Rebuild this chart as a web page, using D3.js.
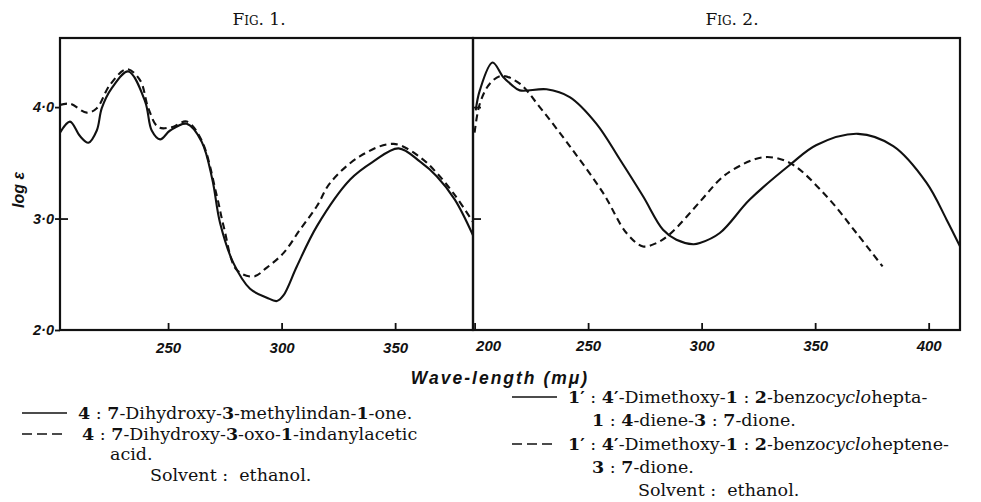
<!DOCTYPE html>
<html>
<head>
<meta charset="utf-8">
<script src="https://cdn.jsdelivr.net/npm/d3@7"></script>
<style>
  html, body { margin: 0; padding: 0; background: #fff; }
  svg { display: block; }
  .legend { white-space: pre; }
</style>
</head>
<body>
<svg id="chart" width="981" height="502"></svg>
<script>
// ---------- DATA ----------
// Fig. 1 — solid: 4:7-Dihydroxy-3-methylindan-1-one
const fig1SolidNm  = [202.4, 206.8, 211.2, 214.9, 218.6, 220.8, 225.2, 232.5, 239.9, 242.8, 246.5, 250.9, 258.2, 264.8, 269.5, 272.9, 278.8, 286.1, 293.5, 297.9, 300.8, 306.7, 315.5, 330.2, 340.3, 351.5, 361.0, 368.3, 376.3, 384.3];
const fig1SolidLog = [3.77, 3.87, 3.74, 3.68, 3.79, 3.99, 4.17, 4.32, 4.05, 3.79, 3.71, 3.79, 3.85, 3.69, 3.35, 2.96, 2.60, 2.37, 2.29, 2.26, 2.31, 2.57, 2.93, 3.35, 3.51, 3.63, 3.51, 3.38, 3.17, 2.85];
// Fig. 1 — dashed: 4:7-Dihydroxy-3-oxo-1-indanylacetic acid
const fig1DashedNm  = [202.4, 206.8, 214.2, 218.6, 224.4, 231.8, 237.7, 241.3, 245.7, 251.6, 258.2, 264.8, 271.4, 274.6, 280.2, 287.6, 293.5, 300.8, 308.1, 315.5, 321.4, 334.6, 349.3, 361.0, 368.3, 376.3, 384.3];
const fig1DashedLog = [4.02, 4.03, 3.95, 3.99, 4.20, 4.34, 4.24, 3.99, 3.82, 3.82, 3.87, 3.70, 3.21, 2.92, 2.54, 2.48, 2.56, 2.69, 2.90, 3.11, 3.32, 3.56, 3.67, 3.55, 3.41, 3.21, 2.97];
// Fig. 2 — solid: 1':4'-Dimethoxy-1:2-benzocyclohepta-1:4-diene-3:7-dione
const fig2SolidNm  = [200.5, 202.3, 207.9, 212.6, 216.3, 219.9, 231.7, 241.9, 253.7, 264.0, 274.2, 283.0, 288.9, 296.3, 299.2, 308.0, 321.2, 338.8, 350.6, 368.9, 384.4, 399.1, 407.9, 413.8];
const fig2SolidLog = [3.97, 4.15, 4.40, 4.27, 4.20, 4.15, 4.16, 4.09, 3.85, 3.53, 3.20, 2.90, 2.81, 2.77, 2.78, 2.87, 3.17, 3.48, 3.66, 3.76, 3.65, 3.32, 2.99, 2.75];
// Fig. 2 — dashed: 1':4'-Dimethoxy-1:2-benzocycloheptene-3:7-dione
const fig2DashedNm  = [200.0, 202.3, 206.7, 211.9, 219.9, 228.7, 241.9, 256.6, 266.9, 274.2, 280.1, 286.0, 299.2, 308.0, 313.9, 327.1, 338.8, 355.0, 368.2, 379.7];
const fig2DashedLog = [3.77, 4.03, 4.21, 4.28, 4.21, 4.00, 3.65, 3.23, 2.87, 2.75, 2.78, 2.86, 3.15, 3.35, 3.44, 3.55, 3.50, 3.20, 2.87, 2.57];

const fig1XTicks = [250, 300, 350];
const fig2XTicks = [200, 250, 300, 350, 400];
const yTicks = [2, 3, 4];
const yTickLabels = ["2·0", "3·0", "4·0"];
const fig2YTicks = [3, 4];

const titles = ["Fig. 1.", "Fig. 2."];
const xLabel = "Wave-length (mμ)";
const yLabel = "log ε";

const legend1 = [
  "4 : 7-Dihydroxy-3-methylindan-1-one.",
  "4 : 7-Dihydroxy-3-oxo-1-indanylacetic",
  "acid.",
  "Solvent :  ethanol."
];
const legend2 = [
  "1′ : 4′-Dimethoxy-1 : 2-benzocyclohepta-",
  "1 : 4-diene-3 : 7-dione.",
  "1′ : 4′-Dimethoxy-1 : 2-benzocycloheptene-",
  "3 : 7-dione.",
  "Solvent :  ethanol."
];

// ---------- LAYOUT ----------
const svg = d3.select("#chart");
const plotTop = 38, plotBottom = 330;
const p1 = {left: 60, right: 473};
const p2 = {left: 473, right: 960};

const y  = d3.scaleLinear().domain([2.0, 4.62]).range([plotBottom, plotTop]);
const x1 = d3.scaleLinear().domain([202.4, 384.3]).range([p1.left, p1.right]);
const x2 = d3.scaleLinear().domain([199.3, 413.8]).range([p2.left, p2.right]);

const tickFont = "'Liberation Sans', Arial, sans-serif";
const serif = "'DejaVu Serif', 'Liberation Serif', serif";

// clip paths
const defs = svg.append("defs");
defs.append("clipPath").attr("id", "c1").append("rect")
  .attr("x", p1.left).attr("y", plotTop).attr("width", p1.right - p1.left).attr("height", plotBottom - plotTop);
defs.append("clipPath").attr("id", "c2").append("rect")
  .attr("x", p2.left).attr("y", plotTop).attr("width", p2.right - p2.left).attr("height", plotBottom - plotTop);

// curves
function drawCurve(xs, ys, xScale, clip, dashed) {
  const pts = xs.map((d, i) => [d, ys[i]]);
  const line = d3.line().x(d => xScale(d[0])).y(d => y(d[1])).curve(d3.curveCatmullRom.alpha(0.5));
  svg.append("path")
    .attr("clip-path", `url(#${clip})`)
    .attr("d", line(pts))
    .attr("fill", "none")
    .attr("stroke", "#111")
    .attr("stroke-width", 2.1)
    .attr("stroke-linejoin", "round")
    .attr("stroke-dasharray", dashed ? "7,4.5" : null);
}
drawCurve(fig1SolidNm, fig1SolidLog, x1, "c1", false);
drawCurve(fig1DashedNm, fig1DashedLog, x1, "c1", true);
drawCurve(fig2SolidNm, fig2SolidLog, x2, "c2", false);
drawCurve(fig2DashedNm, fig2DashedLog, x2, "c2", true);

// panel borders
[p1, p2].forEach(p => {
  svg.append("rect")
    .attr("x", p.left).attr("y", plotTop)
    .attr("width", p.right - p.left).attr("height", plotBottom - plotTop)
    .attr("fill", "none").attr("stroke", "#111").attr("stroke-width", 2.2);
});

// axes
function styleAxis(g) {
  g.select(".domain").remove();
  g.selectAll(".tick line").attr("stroke", "#111").attr("stroke-width", 1.8);
  g.selectAll(".tick text")
    .attr("font-family", tickFont).attr("font-size", 15)
    .attr("font-weight", "bold").attr("font-style", "italic").attr("fill", "#111");
}
const ax1 = svg.append("g").attr("transform", `translate(0,${plotBottom})`)
  .call(d3.axisBottom(x1).tickValues(fig1XTicks).tickSizeInner(-7).tickSizeOuter(0).tickPadding(12).tickFormat(d3.format("d")));
styleAxis(ax1);
const ax2 = svg.append("g").attr("transform", `translate(0,${plotBottom})`)
  .call(d3.axisBottom(x2).tickValues(fig2XTicks).tickSizeInner(-7).tickSizeOuter(0).tickPadding(10).tickFormat(d3.format("d")));
styleAxis(ax2);
ax2.selectAll(".tick").filter(d => d === 200).select("text").attr("text-anchor", "start").attr("dx", 1);

// y axis (left)
const ay = svg.append("g").attr("transform", `translate(${p1.left},0)`)
  .call(d3.axisLeft(y).tickValues(yTicks).tickSizeInner(5).tickSizeOuter(0).tickPadding(1)
    .tickFormat((d, i) => yTickLabels[i]));
styleAxis(ay);
ay.selectAll(".tick text").attr("font-size", 14.5);
svg.append("g").attr("transform", `translate(${p1.left},0)`)
  .call(d3.axisRight(y).tickValues([3]).tickSizeInner(8).tickSizeOuter(0).tickFormat(""))
  .call(styleAxis);
svg.append("g").attr("transform", `translate(${p2.left},0)`)
  .call(d3.axisRight(y).tickValues(fig2YTicks).tickSizeInner(8).tickSizeOuter(0).tickFormat(""))
  .call(styleAxis);

// titles
[[titles[0], 259], [titles[1], 732]].forEach(([t, cx]) => {
  svg.append("text").attr("x", cx).attr("y", 25).attr("text-anchor", "middle")
    .attr("font-family", serif).attr("font-size", 17)
    .style("font-variant", "small-caps").attr("fill", "#111").text(t);
});

// axis labels
svg.append("text").attr("x", 500).attr("y", 384).attr("text-anchor", "middle")
  .attr("font-family", tickFont).attr("font-size", 17.5).attr("font-weight", "bold")
  .attr("font-style", "italic").attr("letter-spacing", 2).attr("fill", "#111").text(xLabel);
svg.append("text").attr("transform", "translate(24,190) rotate(-90)").attr("text-anchor", "middle")
  .attr("font-family", tickFont).attr("font-size", 16).attr("font-weight", "bold")
  .attr("font-style", "italic").attr("fill", "#111").text(yLabel);

// legends
function richText(sel, str) {
  const parts = str.split(/(\d′?|cyclo)/).filter(s => s.length);
  parts.forEach(p => {
    const t = sel.append("tspan").text(p);
    if (/^\d/.test(p)) t.attr("font-weight", "bold");
    if (p === "cyclo") t.attr("font-style", "italic");
  });
}
function legendText(str, x, yy) {
  const t = svg.append("text").attr("class", "legend").attr("x", x).attr("y", yy)
    .attr("font-family", serif).attr("font-size", 17.5).attr("fill", "#111");
  richText(t, str);
}
function sample(x0, xEnd, yy, dashed) {
  svg.append("line").attr("x1", x0).attr("x2", xEnd).attr("y1", yy).attr("y2", yy)
    .attr("stroke", "#111").attr("stroke-width", 1.6)
    .attr("stroke-dasharray", dashed ? "10,5" : null);
}
// left legend
sample(22, 67, 413, false);
legendText(legend1[0], 78, 419);
sample(22, 67, 434, true);
legendText(legend1[1], 82, 440);
legendText(legend1[2], 110, 460);
legendText(legend1[3], 150, 481);
// right legend
sample(512, 557, 397, false);
legendText(legend2[0], 568, 403);
legendText(legend2[1], 592, 426);
sample(512, 557, 444, true);
legendText(legend2[2], 568, 450);
legendText(legend2[3], 592, 473);
legendText(legend2[4], 638, 496);
</script>
</body>
</html>
